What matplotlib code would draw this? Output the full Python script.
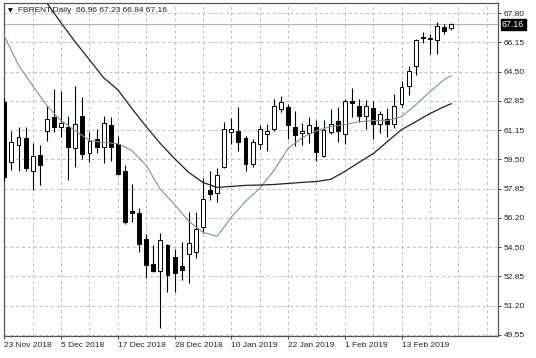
import matplotlib
matplotlib.use("Agg")
import matplotlib.pyplot as plt
import numpy as np

# Дневные свечи FBRENT (open, high, low, close)
opens = [62.77, 59.35, 60.33, 60.72, 58.87, 59.76, 61.09, 61.93, 61.32, 61.36,
         60.16, 61.98, 59.85, 60.64, 60.23, 61.47, 60.38, 58.87, 56.56, 56.48,
         54.97, 53.56, 53.18, 54.64, 53.96, 53.48, 54.13, 54.27, 55.65, 57.74,
         57.60, 59.10, 61.05, 61.13, 60.74, 59.27, 60.38, 60.95, 61.23, 62.35,
         62.49, 61.32, 61.00, 61.02, 61.36, 59.72, 61.04, 61.70, 60.97, 62.79,
         62.55, 61.98, 62.43, 61.53, 61.81, 61.53, 62.64, 63.65, 64.78, 66.42,
         66.36, 66.25, 67.01, 66.96]
highs = [63.00, 61.13, 61.36, 61.36, 60.42, 60.34, 62.55, 63.51, 63.36, 61.98,
         63.68, 63.02, 61.04, 61.25, 61.98, 61.93, 60.85, 59.21, 58.08, 56.73,
         55.26, 54.64, 55.31, 54.69, 54.41, 54.81, 56.54, 56.50, 58.42, 58.87,
         58.99, 61.64, 61.87, 62.45, 60.85, 60.65, 61.47, 61.51, 62.91, 63.11,
         62.64, 62.27, 61.59, 61.90, 61.76, 61.76, 62.38, 62.45, 62.93, 63.56,
         62.93, 62.89, 62.83, 62.27, 62.43, 63.22, 63.96, 64.81, 66.31, 66.75,
         66.63, 67.31, 67.20, 67.23]
lows = [58.30, 58.92, 58.87, 58.82, 57.74, 58.03, 60.53, 61.04, 60.76, 58.35,
        59.06, 59.54, 59.34, 59.89, 59.29, 59.44, 58.59, 55.82, 55.94, 54.24,
        52.77, 53.11, 49.95, 51.98, 52.01, 52.66, 52.49, 53.90, 55.31, 57.21,
        57.08, 59.03, 60.38, 60.00, 58.87, 59.06, 60.12, 60.00, 61.13, 62.21,
        60.68, 60.29, 60.34, 60.45, 59.44, 59.66, 60.95, 60.51, 60.38, 61.93,
        61.62, 61.25, 60.68, 61.02, 60.80, 61.30, 62.45, 63.17, 64.30, 66.12,
        65.50, 65.50, 66.63, 66.84]
closes = [58.48, 60.47, 60.80, 59.03, 59.70, 59.16, 61.80, 61.32, 61.55, 60.23,
          61.51, 59.82, 60.53, 60.20, 61.59, 60.23, 58.69, 55.94, 56.47, 54.72,
          53.49, 53.18, 54.94, 52.94, 53.05, 53.25, 54.75, 55.57, 57.26, 57.55,
          58.59, 61.22, 61.22, 60.47, 59.25, 60.48, 61.23, 61.13, 62.52, 62.75,
          61.45, 60.88, 61.11, 61.45, 59.95, 61.17, 61.51, 61.11, 62.83, 62.69,
          61.98, 62.55, 61.53, 62.07, 61.50, 62.52, 63.62, 64.53, 66.25, 66.39,
          66.33, 67.07, 66.81, 67.16]

# Скользящие средние (номер бара, значение)
fast_bars = [0, 2, 4, 6, 8, 10, 12, 14, 16, 18, 20, 22, 24, 26, 28, 30, 32,
             34, 36, 38, 40, 42, 44, 46, 48, 50, 52, 54, 56, 58, 60, 62, 63]
fast_ma = [66.50, 64.84, 63.68, 62.55, 61.70, 61.13, 60.57, 60.46, 60.40, 60.00,
           59.16, 57.80, 56.95, 55.99, 55.37, 55.14, 56.22, 57.12, 57.86, 58.87,
           60.12, 60.74, 61.13, 61.36, 61.47, 61.64, 61.70, 61.70, 61.93, 62.60,
           63.34, 64.02, 64.24]
slow_bars = [4, 6, 8, 10, 12, 14, 16, 18, 20, 22, 24, 26, 28, 30, 32, 34, 36,
             38, 40, 42, 44, 46, 48, 50, 52, 54, 56, 58, 60, 62, 63]
slow_ma = [69.40, 68.37, 67.24, 66.16, 65.15, 64.13, 63.45, 62.38, 61.36, 60.40,
           59.55, 58.76, 58.20, 57.91, 57.97, 58.03, 58.05, 58.08, 58.14, 58.20,
           58.25, 58.37, 58.82, 59.33, 59.83, 60.51, 61.19, 61.64, 62.10, 62.49,
           62.66]

date_labels = ['23 Nov 2018', '5 Dec 2018', '17 Dec 2018', '28 Dec 2018',
               '10 Jan 2019', '22 Jan 2019', '1 Feb 2019', '13 Feb 2019']
price_labels = ['49.55', '51.20', '52.85', '54.50', '56.20', '57.85',
                '59.50', '61.15', '62.85', '64.50', '66.15', '67.80']
last_price = 67.16

plt.rcParams['font.family'] = ['Liberation Sans', 'DejaVu Sans']
plt.rcParams['font.size'] = 6

W, H = 536, 358
fig = plt.figure(figsize=(W / 100, H / 100), dpi=100)
ax = fig.add_axes([4 / W, 1 - 336 / H, 494 / W, 333 / H])

x = np.arange(len(opens))
o = np.array(opens)
c = np.array(closes)
up = c >= o

ax.vlines(x, lows, highs, color='black', lw=0.8, zorder=3)
ax.bar(x, np.abs(c - o), bottom=np.minimum(o, c), width=0.55,
       color=np.where(up, 'white', 'black'), edgecolor='black',
       linewidth=0.7, zorder=4)

ax.plot(fast_bars, fast_ma, color='#6f9c8c', lw=0.8, zorder=5)
ax.plot(slow_bars, slow_ma, color='#1c1c4c', lw=0.9, zorder=5)

ax.axhline(last_price, color='#b4b4b4', lw=0.8, zorder=1)

ax.set_xlim(-0.05, 69.6)
ax.set_ylim(49.49, 68.37)

yt = np.linspace(49.55, 67.80, len(price_labels))
ax.yaxis.tick_right()
ax.set_yticks(yt)
ax.set_yticklabels(price_labels)
ax.set_xticks(np.arange(0, 64, 8))
ax.set_xticklabels(date_labels, ha='left')
ax.tick_params(axis='both', length=2.5, width=0.7, color='#404040', pad=1.5,
               labelcolor='#222222')

# пунктирная сетка
for gx in np.arange(4, 70, 4):
    ax.axvline(gx, color='#bdbdbd', lw=0.7, ls=(0, (3, 3)), zorder=0)
for gy in yt:
    ax.axhline(gy, color='#bdbdbd', lw=0.7, ls=(0, (3, 3)), zorder=0)

for s in ax.spines.values():
    s.set_color('#555555')
    s.set_linewidth(0.9)

ax.text(1.008, (last_price - 49.49) / (68.37 - 49.49), '67.16',
        transform=ax.transAxes, ha='left', va='center', color='white',
        fontsize=6.3,
        bbox=dict(boxstyle='square,pad=0.15', fc='black', ec='black'))

fig.text(10.5 / W, 1 - 11 / H, '▼', ha='center', va='center', fontsize=4.5,
         family='DejaVu Sans')
fig.text(18 / W, 1 - 11 / H, 'FBRENT,Daily  66.96 67.23 66.84 67.16',
         ha='left', va='center', fontsize=6, color='#222222')

fig.savefig('out.png', dpi=100)
